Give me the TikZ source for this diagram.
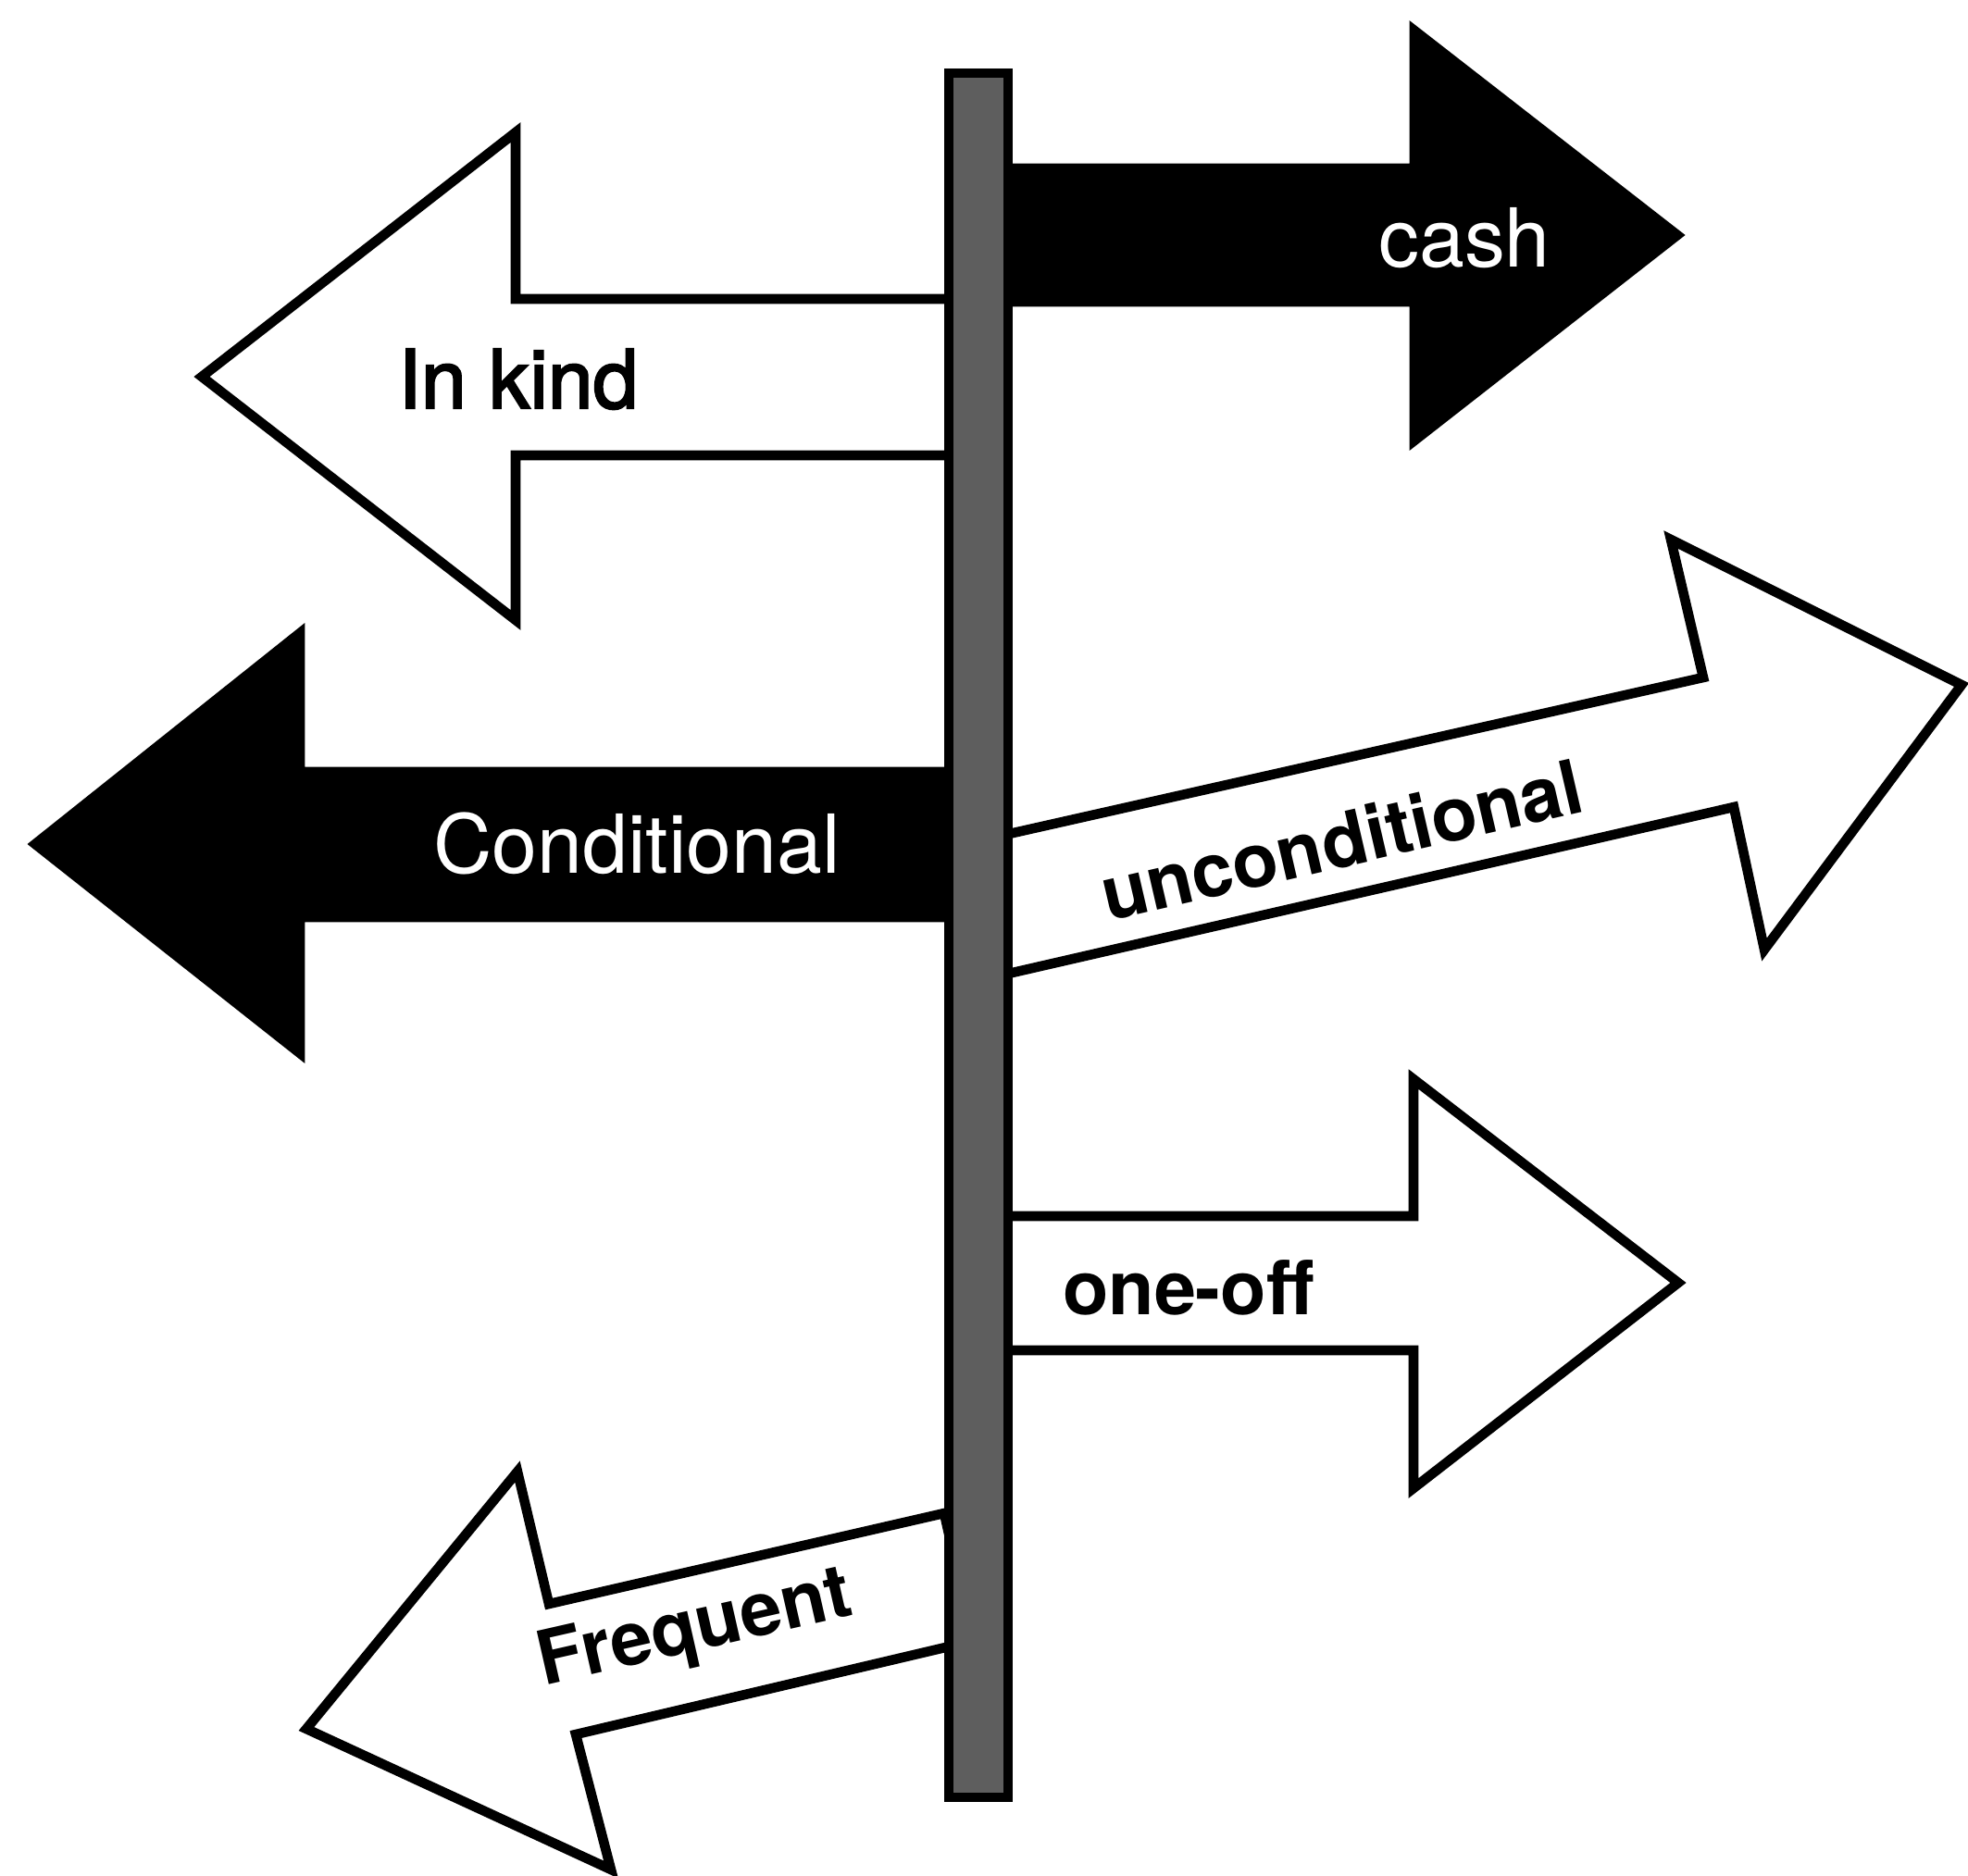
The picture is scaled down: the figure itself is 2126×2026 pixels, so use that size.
\documentclass[tikz,border=0pt]{standalone}
\usepackage{fontspec}
\setmainfont{TeX Gyre Heros}
\newfontfamily\medfont[FakeBold=2.5]{TeX Gyre Heros}
\usepackage{xcolor}
\usepackage{tikz}
\definecolor{polegray}{HTML}{5E5E5E}
\tikzset{
  outl/.style={draw=black, fill=white, line width=3pt, line join=miter},
  fillarr/.style={draw=black, fill=black, line width=3pt, line join=miter},
  post/.style={draw=black, fill=polegray, line width=3pt},
  labw/.style={text=white, anchor=base, inner sep=0pt, font=\fontsize{25}{30}\selectfont},
  labk/.style={text=black, anchor=base, inner sep=0pt, font=\medfont\fontsize{25}{30}\selectfont},
  labbold/.style={text=black, anchor=base, inner sep=0pt, font=\fontsize{23}{28}\selectfont\bfseries}
}

\begin{document}
\begin{tikzpicture}[x=0.01cm, y=-0.01cm]
  \useasboundingbox (0,0) rectangle (2126,2026);

  % arrows pointing right
  \draw[fillarr] (1050,182) -- (1528,182) -- (1528,33) -- (1812,254)
    -- (1528,476) -- (1528,326) -- (1050,326) -- cycle;
  \draw[outl] (1050,910) -- (1840,732) -- (1805,583) -- (2119,740)
    -- (1906,1026) -- (1873,872) -- (1050,1061) -- cycle;
  \draw[outl] (1050,1314) -- (1527,1314) -- (1527,1166) -- (1813,1386)
    -- (1527,1608) -- (1527,1459) -- (1050,1459) -- cycle;

  % arrows pointing left
  \draw[outl] (1050,323) -- (557,323) -- (557,143) -- (218,407)
    -- (557,670) -- (557,492) -- (1050,492) -- cycle;
  \draw[fillarr] (1050,834) -- (324,834) -- (324,684) -- (38,912)
    -- (324,1138) -- (324,991) -- (1050,991) -- cycle;
  \draw[outl] (1020,1635) -- (593,1733) -- (559,1590) -- (331,1868)
    -- (660,2020) -- (622,1874) -- (1051,1773) -- cycle;

  % the post
  \draw[post] (1025,79) rectangle (1089,1942);

  % labels
  \node[labw] (cash) at (1582,288) {cash};
  \node[labk] (inkind) at (560,441) {In kind};
  \node[labw] (cond) at (688,943) {Conditional};
  \node[labbold, rotate=13] (uncond) at (1456,936) {unconditional};
  \node[labbold] (oneoff) at (1284,1420) {one-off};
  \node[labbold, rotate=12.8] (freq) at (756,1783) {Frequent};
\end{tikzpicture}
\end{document}
